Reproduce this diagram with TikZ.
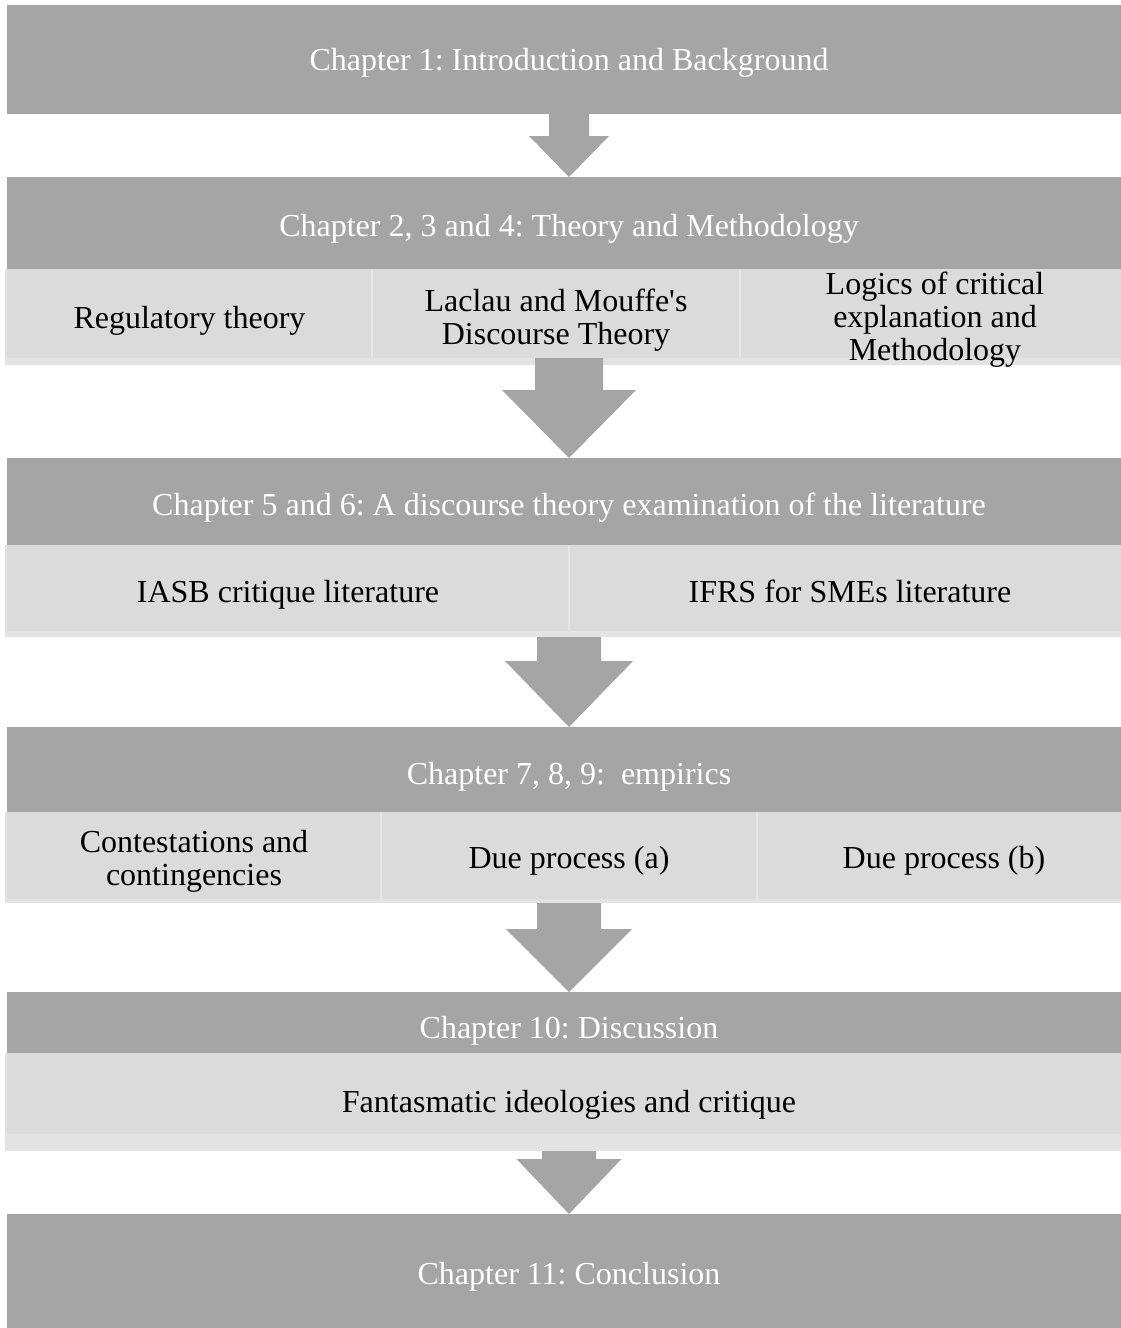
\documentclass[tikz,border=0pt]{standalone}
\usepackage{fontspec}
\setmainfont{Liberation Serif}
\usetikzlibrary{calc}
\frenchspacing
\definecolor{darkfill}{HTML}{A5A5A5}
\definecolor{lightfill}{HTML}{DBDBDB}
\definecolor{bandfill}{HTML}{E3E3E3}
\definecolor{divline}{HTML}{E6E6E6}
\tikzset{
  box/.style={anchor=north west, inner sep=0pt, outer sep=0pt, draw=none},
  headbox/.style={box, fill=darkfill},
  cellbox/.style={box, fill=lightfill},
  bandbox/.style={box, fill=bandfill},
  headtext/.style={inner sep=0pt, anchor=base, text=white, font=\fontsize{32}{33}\selectfont},
  celltext/.style={inner sep=0pt, align=center, text=black, font=\fontsize{32}{33}\selectfont},
  cellbase/.style={celltext, anchor=base},
  divider/.style={draw=divline, line width=2pt},
  arrowfill/.style={fill=darkfill}
}
\newcommand\blockarrow[5]{%
  \fill[arrowfill] let \p1=(#1), \p2=(#2) in
    (\x2-#3pt,\y1) -- (\x2+#3pt,\y1) -- (\x2+#3pt,\y2+#5pt) -- (\x2+#4pt,\y2+#5pt)
    -- (\x2,\y2) -- (\x2-#4pt,\y2+#5pt) -- (\x2-#3pt,\y2+#5pt) -- cycle;}
\begin{document}
\begin{tikzpicture}[x=1pt,y=-1pt]
\useasboundingbox (0,0) rectangle (1121,1328);
\clip (0,0) rectangle (1121,1328);
\fill[white] (0,0) rectangle (1121,1328);

% Chapter 1
\node[headbox, minimum width=1124pt, minimum height=109pt] (h1) at (7,5) {};
\node[headtext] (t1) at (569,70) {Chapter 1: Introduction and Background};

% Chapter 2-4
\node[headbox, minimum width=1124pt, minimum height=92pt] (h2) at (7,177) {};
\node[headtext] (t2) at (569,236) {Chapter 2, 3 and 4: Theory and Methodology};
\node[bandbox, minimum width=1126pt, minimum height=96pt] (b2) at (5,269) {};
\node[cellbox, minimum width=365pt, minimum height=89pt] (c21) at (7,269) {};
\node[cellbox, minimum width=368pt, minimum height=89pt] (c22) at (372,269) {};
\node[cellbox, minimum width=391pt, minimum height=89pt] (c23) at (740,269) {};
\draw[divider] (c21.north east) -- (c21.south east);
\draw[divider] (c22.north east) -- (c22.south east);
\node[cellbase] (t21) at (189.5,328) {Regulatory theory};
\node[celltext] (t22) at (556,320.5) {Laclau and Mouffe\textquotesingle s\\Discourse Theory};
\node[celltext] (t23) at (935,320) {Logics of critical\\explanation and\\Methodology};

% Chapter 5-6
\node[headbox, minimum width=1124pt, minimum height=87pt] (h3) at (7,458) {};
\node[headtext] (t3) at (569,515) {Chapter 5 and 6: A discourse theory examination of the literature};
\node[bandbox, minimum width=1126pt, minimum height=92pt] (b3) at (5,545) {};
\node[cellbox, minimum width=562pt, minimum height=86pt] (c31) at (7,545) {};
\node[cellbox, minimum width=562pt, minimum height=86pt] (c32) at (569,545) {};
\draw[divider] (c31.north east) -- (c31.south east);
\node[cellbase] (t31) at (288,602) {IASB critique literature};
\node[cellbase] (t32) at (850,602) {IFRS for SMEs literature};

% Chapter 7-9
\node[headbox, minimum width=1124pt, minimum height=85pt] (h4) at (7,727) {};
\node[headtext] (t4) at (569,784) {Chapter 7, 8, 9:\ \ empirics};
\node[bandbox, minimum width=1126pt, minimum height=91pt] (b4) at (5,812) {};
\node[cellbox, minimum width=374pt, minimum height=87pt] (c41) at (7,812) {};
\node[cellbox, minimum width=376pt, minimum height=87pt] (c42) at (381,812) {};
\node[cellbox, minimum width=374pt, minimum height=87pt] (c43) at (757,812) {};
\draw[divider] (c41.north east) -- (c41.south east);
\draw[divider] (c42.north east) -- (c42.south east);
\node[celltext] (t41) at (194,861) {Contestations and\\contingencies};
\node[cellbase] (t42) at (569,868) {Due process (a)};
\node[cellbase] (t43) at (944,868) {Due process (b)};

% Chapter 10
\node[headbox, minimum width=1124pt, minimum height=61pt] (h5) at (7,992) {};
\node[headtext] (t5) at (569,1038) {Chapter 10: Discussion};
\node[bandbox, minimum width=1126pt, minimum height=98pt] (b5) at (5,1053) {};
\node[cellbox, minimum width=1124pt, minimum height=81pt] (c51) at (7,1053) {};
\node[cellbase] (t51) at (569,1112) {Fantasmatic ideologies and critique};

% Chapter 11
\node[headbox, minimum width=1124pt, minimum height=114pt] (h6) at (7,1214) {};
\node[headtext] (t6) at (569,1284) {Chapter 11: Conclusion};

% Block arrows
\blockarrow{h1.south}{h2.north}{20}{40}{41}
\blockarrow{c22.south}{h3.north}{34}{67}{68}
\blockarrow{b3.south}{h4.north}{32}{64}{66}
\blockarrow{b4.south}{h5.north}{32}{63}{63}
\blockarrow{b5.south}{h6.north}{27}{52.5}{55}
\end{tikzpicture}
\end{document}
